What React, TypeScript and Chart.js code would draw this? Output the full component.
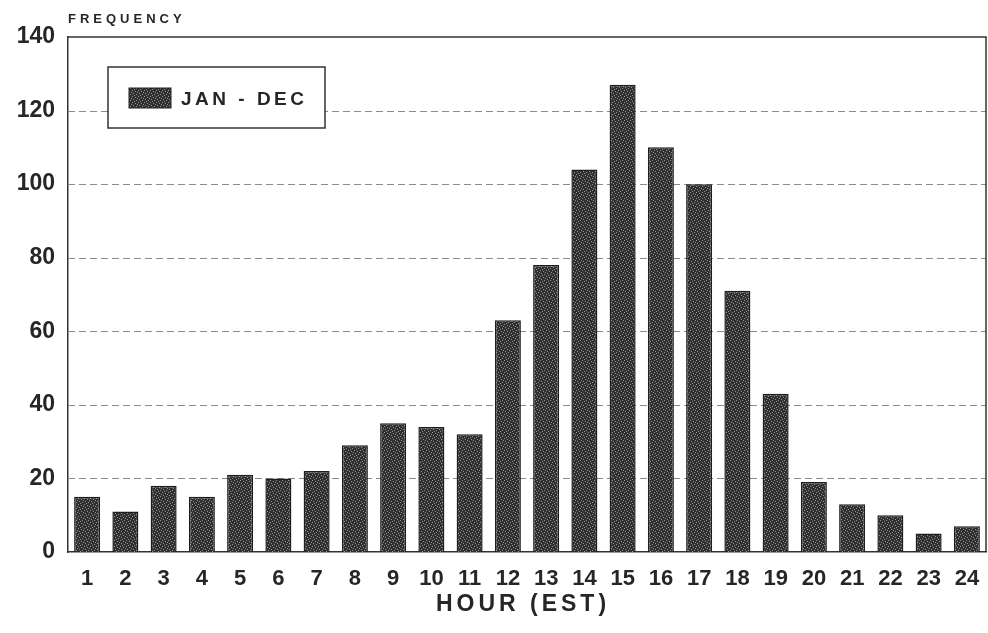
import React, { useEffect, useRef } from 'react';
import { Chart, registerables } from 'chart.js';

Chart.register(...registerables);

const hours = ['1', '2', '3', '4', '5', '6', '7', '8', '9', '10', '11', '12', '13', '14', '15', '16', '17', '18', '19', '20', '21', '22', '23', '24'];
const frequency = [15, 11, 18, 15, 21, 20, 22, 29, 35, 34, 32, 63, 78, 104, 127, 110, 100, 71, 43, 19, 13, 10, 5, 7];
const seriesLabel = 'JAN - DEC';
const yAxisTitle = 'FREQUENCY';
const xAxisTitle = 'HOUR (EST)';
const yMin = 0;
const yMax = 140;
const yStep = 20;

const FONT = "'Liberation Sans', Arial, sans-serif";
const INK = '#262626';

function makePattern(): CanvasPattern | string {
  const c = document.createElement('canvas');
  c.width = 6;
  c.height = 6;
  const g = c.getContext('2d');
  if (!g) return '#444';
  g.fillStyle = '#303030';
  g.fillRect(0, 0, 6, 6);
  g.fillStyle = '#939393';
  [[0, 0], [3, 1], [1, 3], [4, 4], [2, 5], [5, 2]].forEach(([x, y]) => g.fillRect(x, y, 1, 1));
  const p = g.createPattern(c, 'repeat');
  return p || '#444';
}

const decorPlugin = {
  id: 'decor',
  beforeDatasetsDraw(chart: any) {
    const { ctx, chartArea } = chart;
    const y = chart.scales.y;
    ctx.save();
    ctx.strokeStyle = '#8a8a8a';
    ctx.lineWidth = 1;
    ctx.setLineDash([7, 4]);
    y.ticks.forEach((t: any) => {
      if (t.value <= yMin || t.value >= yMax) return;
      const py = Math.round(y.getPixelForValue(t.value)) + 0.5;
      ctx.beginPath();
      ctx.moveTo(chartArea.left, py);
      ctx.lineTo(chartArea.right, py);
      ctx.stroke();
    });
    ctx.setLineDash([]);
    ctx.strokeStyle = '#333';
    ctx.lineWidth = 1.5;
    ctx.beginPath();
    ctx.moveTo(chartArea.left, chartArea.top);
    ctx.lineTo(chartArea.right, chartArea.top);
    ctx.lineTo(chartArea.right, chartArea.bottom);
    ctx.stroke();
    ctx.restore();
  },
  afterDraw(chart: any) {
    const { ctx, chartArea } = chart;
    ctx.save();
    // y axis title
    ctx.fillStyle = INK;
    ctx.font = `bold 13px ${FONT}`;
    (ctx as any).letterSpacing = '4px';
    ctx.textAlign = 'left';
    ctx.textBaseline = 'alphabetic';
    ctx.fillText(yAxisTitle, chartArea.left, 23);

    // x axis title
    ctx.font = `bold 23px ${FONT}`;
    (ctx as any).letterSpacing = '4px';
    ctx.textAlign = 'center';
    ctx.fillText(xAxisTitle, (chartArea.left + chartArea.right) / 2 - 4, 611);

    // legend
    const bx = chartArea.left + 40;
    const by = chartArea.top + 30;
    const bw = 217;
    const bh = 61;
    ctx.fillStyle = '#ffffff';
    ctx.fillRect(bx, by, bw, bh);
    ctx.strokeStyle = '#333';
    ctx.lineWidth = 1.5;
    ctx.strokeRect(bx, by, bw, bh);
    const ds = chart.data.datasets[0];
    ctx.fillStyle = ds.backgroundColor;
    ctx.fillRect(bx + 21, by + 21, 42, 20);
    ctx.strokeStyle = '#222';
    ctx.lineWidth = 1;
    ctx.strokeRect(bx + 21, by + 21, 42, 20);
    ctx.fillStyle = INK;
    ctx.font = `bold 19px ${FONT}`;
    (ctx as any).letterSpacing = '3.5px';
    ctx.textAlign = 'left';
    ctx.textBaseline = 'alphabetic';
    ctx.fillText(ds.label, bx + 73, by + 38);
    ctx.restore();
  },
};

export default function App() {
  const ref = useRef<HTMLCanvasElement | null>(null);

  useEffect(() => {
    const canvas = ref.current;
    if (!canvas) return;
    const pattern = makePattern();
    const chart = new Chart(canvas, {
      type: 'bar',
      data: {
        labels: hours,
        datasets: [
          {
            label: seriesLabel,
            data: frequency,
            backgroundColor: pattern as any,
            borderColor: '#1e1e1e',
            borderWidth: 1.5,
            barPercentage: 0.68,
            categoryPercentage: 1,
          },
        ],
      },
      options: {
        responsive: false,
        animation: false,
        layout: { padding: { top: 37, right: 2, left: 0, bottom: 0 } },
        plugins: {
          legend: { display: false },
          tooltip: { enabled: false },
          title: { display: false },
        },
        scales: {
          x: {
            grid: { display: false, drawTicks: false },
            border: { display: true, color: '#333', width: 1.5 },
            ticks: {
              color: INK,
              font: { family: FONT, size: 22, weight: 'bold' },
              padding: 14,
              maxRotation: 0,
              autoSkip: false,
            },
            afterFit(scale: any) {
              scale.height = 81;
              scale.paddingLeft = 0;
              scale.paddingRight = 0;
            },
          },
          y: {
            min: yMin,
            max: yMax,
            grid: { display: false, drawTicks: false },
            border: { display: true, color: '#333', width: 1.5 },
            ticks: {
              stepSize: yStep,
              color: INK,
              font: { family: FONT, size: 23, weight: 'bold' },
              padding: 13,
            },
            afterFit(scale: any) {
              scale.width = 68;
            },
          },
        },
      },
      plugins: [decorPlugin],
    });
    return () => chart.destroy();
  }, []);

  return (
    <div style={{ position: 'absolute', left: 0, top: 0, width: 988, height: 633, background: '#fff' }}>
      <canvas ref={ref} width={988} height={633} />
    </div>
  );
}
